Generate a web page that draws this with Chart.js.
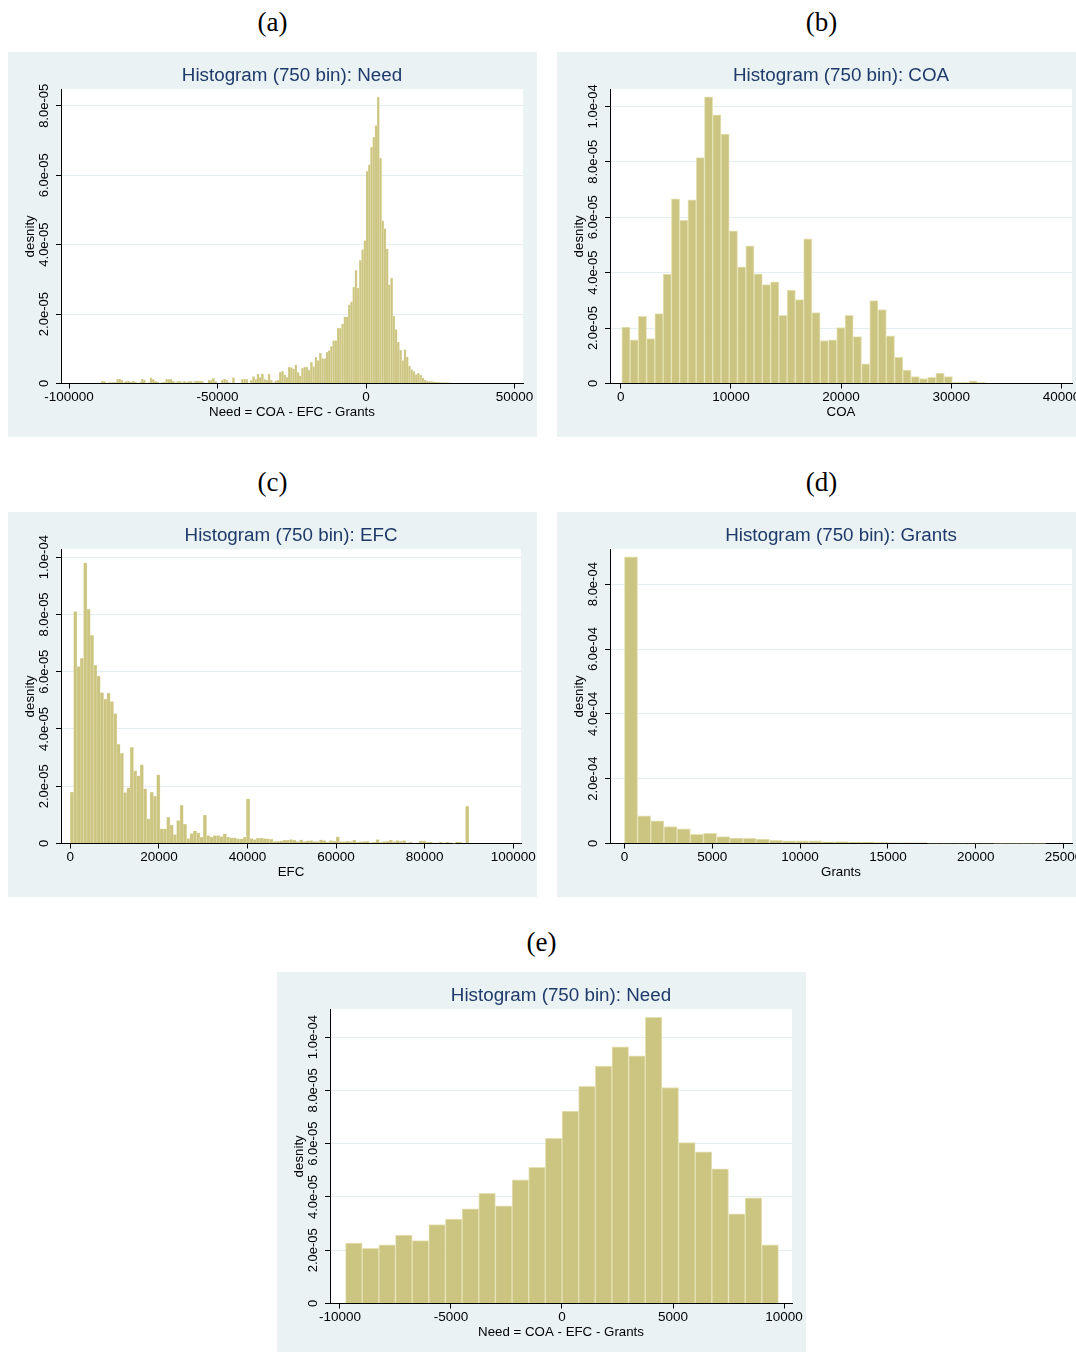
<!DOCTYPE html>
<html>
<head>
<meta charset="utf-8">
<script src="https://cdn.jsdelivr.net/npm/chart.js@4.4.0/dist/chart.umd.min.js"></script>
<style>
  body { margin: 0; width: 1076px; height: 1352px; overflow: hidden; background: #fff; position: relative; }
  .lab { position: absolute; width: 529px; text-align: center; font-family: "Liberation Serif", "DejaVu Serif", serif; font-size: 27px; line-height: 30px; color: #000; }
  .panel { position: absolute; width: 529px; height: 385px; }
  .panel canvas { display: block; }
</style>
</head>
<body>
<div class="lab" style="left:8px;top:7px">(a)</div>
<div class="lab" style="left:557px;top:7px">(b)</div>
<div class="lab" style="left:8px;top:467px">(c)</div>
<div class="lab" style="left:557px;top:467px">(d)</div>
<div class="lab" style="left:277px;top:927px">(e)</div>

<div class="panel" style="left:8px;top:52px"><canvas id="histA" width="529" height="385"></canvas></div>
<div class="panel" style="left:557px;top:52px"><canvas id="histB" width="529" height="385"></canvas></div>
<div class="panel" style="left:8px;top:512px"><canvas id="histC" width="529" height="385"></canvas></div>
<div class="panel" style="left:557px;top:512px"><canvas id="histD" width="529" height="385"></canvas></div>
<div class="panel" style="left:277px;top:972px"><canvas id="histE" width="529" height="385"></canvas></div>

<script>
// Alturas de las barras (densidad en unidades de 1e-05, salvo Grants en 1e-04)
// Need (a): 157 bins de 750 desde -89250
const needTodo = [
  0.06, 0.06, 0.00, 0.03, 0.03, 0.03, 0.04, 0.13, 0.13, 0.10,
  0.03, 0.07, 0.07, 0.04, 0.07, 0.05, 0.00, 0.03, 0.13, 0.10,
  0.00, 0.03, 0.16, 0.12, 0.07, 0.05, 0.00, 0.03, 0.04, 0.13,
  0.12, 0.13, 0.07, 0.03, 0.06, 0.06, 0.03, 0.06, 0.04, 0.06,
  0.06, 0.03, 0.08, 0.08, 0.06, 0.06, 0.00, 0.00, 0.09, 0.09,
  0.15, 0.06, 0.00, 0.00, 0.10, 0.13, 0.10, 0.03, 0.00, 0.17,
  0.00, 0.00, 0.00, 0.12, 0.13, 0.12, 0.00, 0.09, 0.20, 0.12,
  0.27, 0.18, 0.28, 0.12, 0.10, 0.27, 0.09, 0.03, 0.08, 0.10,
  0.32, 0.35, 0.25, 0.18, 0.47, 0.46, 0.42, 0.54, 0.32, 0.22,
  0.44, 0.47, 0.47, 0.38, 0.61, 0.49, 0.76, 0.66, 0.88, 0.72,
  0.72, 0.90, 0.95, 1.07, 1.24, 1.24, 1.60, 1.60, 1.72, 1.92,
  1.92, 2.27, 2.35, 2.78, 3.26, 2.75, 3.55, 3.86, 4.12, 6.11,
  6.30, 6.81, 7.09, 7.43, 8.25, 6.49, 4.69, 4.46, 3.88, 2.84,
  3.04, 1.94, 1.55, 1.19, 0.96, 0.66, 0.98, 0.76, 0.50, 0.40,
  0.35, 0.26, 0.30, 0.24, 0.16, 0.10, 0.07, 0.06, 0.06, 0.05,
  0.04, 0.04, 0.03, 0.03, 0.03, 0.02, 0.02
];
const needInicio = -89250;

// COA (b): 44 bins desde 100
const coa = [
  2.04, 1.58, 2.42, 1.62, 2.52, 3.95, 6.66, 5.89, 6.63, 8.15,
  10.34, 9.69, 9.00, 5.51, 4.21, 4.97, 3.96, 3.57, 3.67, 2.46,
  3.37, 3.03, 5.22, 2.56, 1.55, 1.58, 2.02, 2.46, 1.69, 0.71,
  2.99, 2.67, 1.72, 0.94, 0.48, 0.25, 0.18, 0.22, 0.38, 0.25,
  0.03, 0.03, 0.10, 0.03
];
const coaInicio = 100;

// EFC (c): 120 bins desde 0
const efc = [
  1.80, 8.10, 6.18, 6.47, 9.80, 8.18, 7.27, 6.22, 5.85, 5.27,
  5.04, 5.25, 4.96, 4.54, 3.46, 3.16, 1.78, 1.94, 3.36, 2.54,
  2.36, 2.75, 1.91, 0.86, 1.80, 1.66, 2.40, 0.51, 0.51, 0.91,
  0.64, 0.31, 0.80, 1.33, 0.68, 0.17, 0.35, 0.44, 0.37, 0.22,
  0.99, 0.28, 0.22, 0.28, 0.28, 0.24, 0.34, 0.22, 0.20, 0.20,
  0.16, 0.16, 0.22, 1.56, 0.17, 0.14, 0.19, 0.19, 0.17, 0.16,
  0.15, 0.07, 0.08, 0.09, 0.12, 0.12, 0.14, 0.12, 0.07, 0.13,
  0.07, 0.09, 0.10, 0.07, 0.07, 0.13, 0.10, 0.05, 0.10, 0.08,
  0.23, 0.07, 0.07, 0.08, 0.07, 0.12, 0.05, 0.07, 0.07, 0.08,
  0.02, 0.05, 0.14, 0.04, 0.07, 0.08, 0.12, 0.07, 0.10, 0.08,
  0.10, 0.02, 0.05, 0.00, 0.02, 0.09, 0.09, 0.05, 0.04, 0.02,
  0.02, 0.04, 0.02, 0.04, 0.02, 0.01, 0.06, 0.05, 0.00, 1.30
];
const efcInicio = 0;

// Grants (d): 32 bins desde 0, unidades 1e-04
const grants = [
  8.84, 0.85, 0.70, 0.52, 0.45, 0.28, 0.31, 0.21, 0.17, 0.16,
  0.14, 0.10, 0.08, 0.08, 0.08, 0.05, 0.06, 0.04, 0.04, 0.03,
  0.02, 0.02, 0.02, 0.01, 0.01, 0.01, 0.01, 0.01, 0.005, 0.005,
  0.005, 0.005
];
const grantsInicio = 0;

// Need recortado (e): 26 bins desde -9750
const needCorte = [
  2.27, 2.07, 2.20, 2.57, 2.36, 2.96, 3.17, 3.55, 4.14, 3.67,
  4.64, 5.11, 6.20, 7.22, 8.15, 8.91, 9.64, 9.30, 10.74, 8.11,
  6.04, 5.69, 5.06, 3.37, 3.97, 2.20
];
const needCorteInicio = -9750;

const anchoBin = 750;

// Marcas de los ejes
const ticksXA = [-100000, -50000, 0, 50000];
const ticksXB = [0, 10000, 20000, 30000, 40000];
const ticksXC = [0, 20000, 40000, 60000, 80000, 100000];
const ticksXD = [0, 5000, 10000, 15000, 20000, 25000];
const ticksXE = [-10000, -5000, 0, 5000, 10000];
const ticksY8 = [0, 2, 4, 6, 8];
const ticksY10 = [0, 2, 4, 6, 8, 10];

const fuente = '"Liberation Sans", Arial, Helvetica, sans-serif';
const colorBarra = "rgb(204, 196, 129)";
const bordeBarra = "rgb(230, 226, 182)";

function formatoY(v, unidad) {
  if (v === 0) return "0";
  return (v * unidad).toExponential(1).replace(/e-(\d)$/, (m, d) => "e-0" + d);
}

function puntos(inicio, alturas) {
  return alturas.map((h, i) => ({ x: inicio + anchoBin * (i + 0.5), y: h }));
}

const fondo = {
  id: "fondo",
  beforeDraw(chart) {
    const { ctx, chartArea: a } = chart;
    ctx.save();
    ctx.fillStyle = "#eaf2f3";
    ctx.fillRect(0, 0, chart.width, chart.height);
    ctx.fillStyle = "#ffffff";
    ctx.fillRect(a.left, a.top, a.right - a.left, a.bottom - a.top);
    ctx.restore();
  }
};

// etiquetas verticales del eje y (como en Stata)
const etiquetasY = {
  id: "etiquetasY",
  afterDraw(chart, args, opts) {
    const s = chart.scales.y;
    const ctx = chart.ctx;
    ctx.save();
    ctx.font = "13px " + fuente;
    ctx.fillStyle = "#000";
    ctx.textAlign = "center";
    ctx.textBaseline = "middle";
    s.ticks.forEach((t) => {
      const y = s.getPixelForValue(t.value);
      ctx.save();
      ctx.translate(s.right - 16.5, y);
      ctx.rotate(-Math.PI / 2);
      ctx.fillText(formatoY(t.value, opts.unidad), 0, 0);
      ctx.restore();
    });
    ctx.restore();
  }
};

function histograma(id, cfg) {
  const ctx = document.getElementById(id);
  return new Chart(ctx, {
    type: "bar",
    data: {
      datasets: [{
        data: puntos(cfg.inicio, cfg.alturas),
        backgroundColor: colorBarra,
        borderColor: bordeBarra,
        borderWidth: cfg.borde,
        borderSkipped: "start",
        barPercentage: 1,
        categoryPercentage: 1
      }]
    },
    options: {
      responsive: false,
      animation: false,
      layout: { padding: { left: 0, right: 14, top: 0, bottom: 0 } },
      plugins: {
        legend: { display: false },
        tooltip: { enabled: false },
        title: {
          display: true,
          text: cfg.titulo,
          fullSize: false,
          color: "#1f3a6a",
          font: { family: fuente, size: 18.8, weight: "normal", lineHeight: 1.2 },
          padding: { top: 13, bottom: 1.6 }
        },
        etiquetasY: { unidad: cfg.unidad }
      },
      scales: {
        x: {
          type: "linear",
          min: cfg.xMin,
          max: cfg.xMax,
          offset: false,
          afterBuildTicks: (s) => { s.ticks = cfg.ticksX.map((v) => ({ value: v })); },
          afterFit: (s) => { s.height = 53.5; },
          ticks: {
            autoSkip: false, maxRotation: 0, minRotation: 0, padding: 1,
            color: "#000", font: { family: fuente, size: 13.5 },
            callback: (v) => String(v)
          },
          grid: { display: true, offset: false, drawOnChartArea: false, drawTicks: true, tickLength: 5, tickColor: "#000" },
          border: { display: true, color: "#000", width: 1 },
          title: {
            display: true, text: cfg.tituloX, color: "#000",
            font: { family: fuente, size: 13.3, lineHeight: 1.2 },
            padding: { top: 0, bottom: 17 }
          }
        },
        y: {
          min: 0,
          max: cfg.yMax,
          afterBuildTicks: (s) => { s.ticks = cfg.ticksY.map((v) => ({ value: v })); },
          afterFit: (s) => { s.width = 53; },
          ticks: { display: false },
          grid: {
            color: (c) => (c.tick && c.tick.value === 0 ? "rgba(0,0,0,0)" : "#e4edef"),
            lineWidth: 1, drawTicks: true, tickLength: 5, tickColor: "#000"
          },
          border: { display: true, color: "#000", width: 1 },
          title: {
            display: true, text: "desnity", color: "#000",
            font: { family: fuente, size: 13.3, lineHeight: 1.2 },
            padding: { top: 14, bottom: 0 }
          }
        }
      }
    },
    plugins: [fondo, etiquetasY]
  });
}

document.addEventListener("DOMContentLoaded", () => {
  histograma("histA", {
    titulo: "Histogram (750 bin): Need", tituloX: "Need = COA - EFC - Grants",
    inicio: needInicio, alturas: needTodo, borde: 0.5,
    xMin: -102700, xMax: 52860, ticksX: ticksXA,
    yMax: 8.48, ticksY: ticksY8, unidad: 1e-5
  });
  histograma("histB", {
    titulo: "Histogram (750 bin): COA", tituloX: "COA",
    inicio: coaInicio, alturas: coa, borde: 1,
    xMin: -970, xMax: 40950, ticksX: ticksXB,
    yMax: 10.62, ticksY: ticksY10, unidad: 1e-5
  });
  histograma("histC", {
    titulo: "Histogram (750 bin): EFC", tituloX: "EFC",
    inicio: efcInicio, alturas: efc, borde: 0.5,
    xMin: -2110, xMax: 101780, ticksX: ticksXC,
    yMax: 10.28, ticksY: ticksY10, unidad: 1e-5
  });
  histograma("histD", {
    titulo: "Histogram (750 bin): Grants", tituloX: "Grants",
    inicio: grantsInicio, alturas: grants, borde: 1,
    xMin: -820, xMax: 25480, ticksX: ticksXD,
    yMax: 9.08, ticksY: ticksY8, unidad: 1e-4
  });
  histograma("histE", {
    titulo: "Histogram (750 bin): Need", tituloX: "Need = COA - EFC - Grants",
    inicio: needCorteInicio, alturas: needCorte, borde: 1,
    xMin: -10450, xMax: 10360, ticksX: ticksXE,
    yMax: 11.05, ticksY: ticksY10, unidad: 1e-5
  });
});
</script>
</body>
</html>
